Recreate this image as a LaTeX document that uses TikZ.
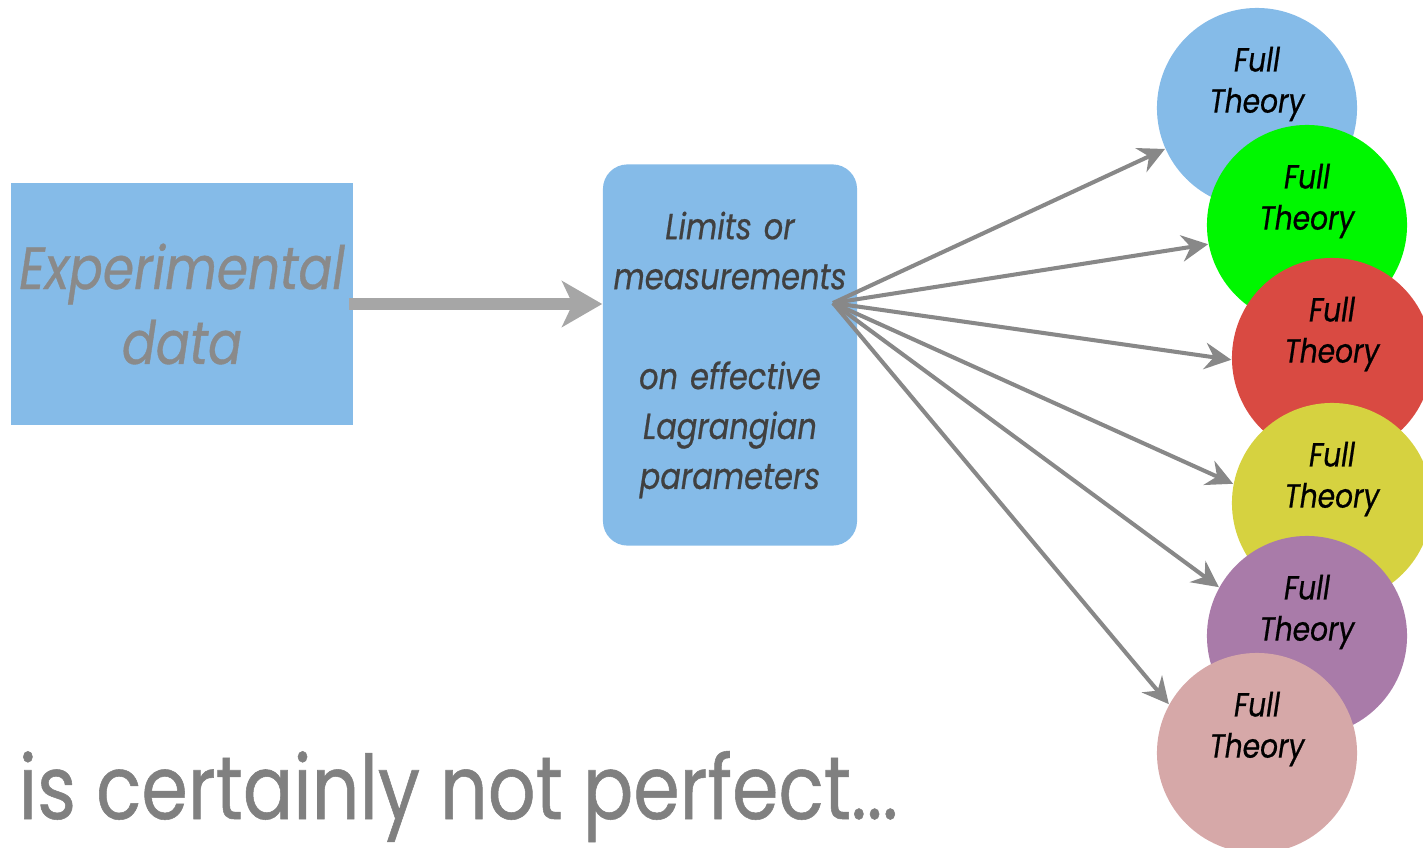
\documentclass[tikz,border=0pt]{standalone}
\usepackage{fontspec}
\setmainfont{Poppins}[FakeStretch=0.84,FakeBold=0.6]
\usetikzlibrary{arrows.meta}
\usepackage{xcolor}
\definecolor{boxblue}{HTML}{85BBE8}
\definecolor{fatgray}{HTML}{A6A6A6}
\definecolor{linkgray}{HTML}{888888}
\definecolor{expgray}{HTML}{8A8A8A}
\definecolor{limgray}{HTML}{404040}
\definecolor{saygray}{HTML}{808080}
\definecolor{thA}{HTML}{85BBE8}
\definecolor{thB}{HTML}{00F700}
\definecolor{thC}{HTML}{D94A42}
\definecolor{thD}{HTML}{D6D240}
\definecolor{thE}{HTML}{A97BA9}
\definecolor{thF}{HTML}{D6A8A8}

\begin{document}
\begin{tikzpicture}[x=0.01cm,y=-0.01cm,
		theory/.style={circle, minimum size=2cm, inner sep=0pt},
		thtext/.style={align=center, font=\itshape\fontsize{9.5}{11.7}\selectfont},
		link/.style={draw=linkgray, line width=1.15pt, -{Stealth[length=7.5pt,width=7.5pt,inset=2.5pt]}}]
		\useasboundingbox (0,0) rectangle (1423,848);
		\clip (0,0) rectangle (1423,848);
		% left box and big arrow
		\node (exp) [fill=boxblue, minimum width=3.42cm, minimum height=2.42cm, inner sep=0pt, text width=3.4cm,
			text=expgray, align=center, font=\itshape\fontsize{17}{21.3}\selectfont] at (182,304) {Experimental\\data};
		\node (lim) [fill=boxblue, rounded corners=7pt, minimum width=2.54cm, minimum height=3.81cm, inner sep=0pt, text width=2.5cm,
			text=limgray, align=center, font=\itshape\fontsize{10.3}{14.2}\selectfont] at (730,355)
			{Limits or\\measurements\\[14.2pt]on effective\\Lagrangian\\parameters};
		\draw [fatgray, line width=3.4pt, -{Stealth[length=11.4pt,width=13pt,inset=3pt]}]
			(exp.east) ++(-5,0) -- (exp.east -| lim.west);
		\coordinate (hub) at (833,303);
		% the six theories
		\foreach \name/\cx/\cy/\col in {A/1257/108/thA, B/1307/225/thB, C/1332/358/thC,
			D/1332/503/thD, E/1307/636/thE, F/1257/753/thF} {
			\node (\name) [theory, fill=\col] at (\cx,\cy) {};
			\node (\name txt) [thtext] at (\cx,\cy-24) {Full\\Theory};
		}
		\foreach \name/\ang in {A/204.5, B/191.7, C/181, D/169.7, E/151.4, F/151.3}
			\draw [link] (hub) -- (\name.\ang);
		\node (say) [anchor=base west, inner sep=0pt, text=saygray, font=\fontsize{25.3}{30}\selectfont] at (18,819) {is certainly not perfect...};
\end{tikzpicture}
\end{document}
